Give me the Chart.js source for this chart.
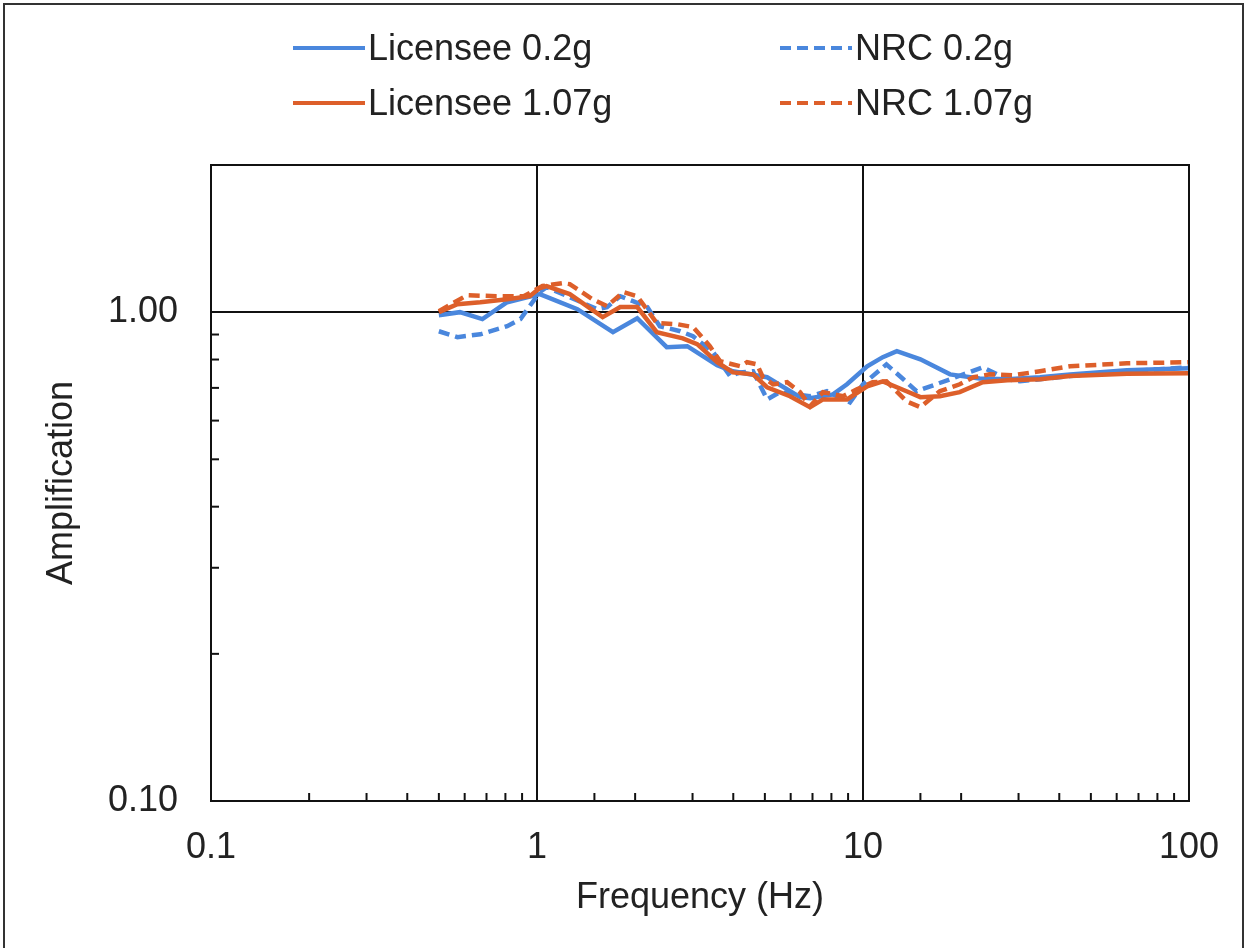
<!DOCTYPE html>
<html>
<head>
<meta charset="utf-8">
<script src="https://cdn.jsdelivr.net/npm/chart.js@4.4.1/dist/chart.umd.min.js"></script>
<style>
  body { margin: 0; background: #fff; overflow: hidden; }
  #wrap { position: relative; width: 1250px; height: 948px; }
  #frame { position: absolute; left: 3px; top: 3px; width: 1241px; height: 960px; border: 2px solid #333; box-sizing: border-box; }
  .leg { position: absolute; height: 44px; display: flex; align-items: center;
         font-family: "Liberation Sans", Arial, sans-serif; font-size: 36px; color: #222; }
  .ln { display: inline-block; width: 72px; height: 4px; margin-right: 3px; }
  .solid.blue { background: #4a87dd; }
  .solid.orange { background: #dd5f2a; }
  .dash.blue { background: repeating-linear-gradient(90deg, #4a87dd 0 11px, transparent 11px 17px); }
  .dash.orange { background: repeating-linear-gradient(90deg, #dd5f2a 0 11px, transparent 11px 17px); }
</style>
</head>
<body>
<div id="wrap">
  <canvas id="chart" width="1250" height="948"></canvas>
  <div id="frame"></div>
  <div class="leg" style="left:293px;top:26px"><span class="ln solid blue"></span>Licensee 0.2g</div>
  <div class="leg" style="left:780px;top:26px"><span class="ln dash blue"></span>NRC 0.2g</div>
  <div class="leg" style="left:293px;top:81px"><span class="ln solid orange"></span>Licensee 1.07g</div>
  <div class="leg" style="left:780px;top:81px"><span class="ln dash orange"></span>NRC 1.07g</div>
</div>
<script>
// frequencies in Hz, amplification factors
const licensee02Freq = [0.50, 0.58, 0.68, 0.81, 1.02, 1.33, 1.71, 2.03, 2.50, 2.89, 3.57, 3.99, 5.08, 6.41, 6.88, 8.09, 8.93, 10.3, 11.5, 12.7, 15.0, 18.5, 22.8, 27.7, 34.9, 43.2, 64.5, 100];
const licensee02Amp  = [0.986, 1.00, 0.968, 1.048, 1.089, 1.014, 0.910, 0.972, 0.848, 0.852, 0.779, 0.757, 0.736, 0.670, 0.667, 0.679, 0.712, 0.775, 0.809, 0.832, 0.801, 0.746, 0.732, 0.729, 0.736, 0.746, 0.761, 0.768];

const nrc02Freq = [0.50, 0.57, 0.67, 0.81, 0.89, 0.95, 1.02, 1.07, 1.24, 1.53, 1.64, 1.80, 1.97, 2.18, 2.38, 2.75, 3.01, 3.47, 3.91, 4.20, 4.60, 5.08, 5.56, 6.88, 7.75, 9.12, 10.0, 11.8, 13.3, 14.6, 18.5, 23.3, 27.7, 30.3, 34.9, 43.2, 64.5, 100];
const nrc02Amp  = [0.914, 0.889, 0.901, 0.936, 0.968, 1.029, 1.099, 1.125, 1.078, 1.014, 1.024, 1.078, 1.053, 1.024, 0.936, 0.914, 0.893, 0.828, 0.740, 0.753, 0.757, 0.663, 0.686, 0.673, 0.689, 0.654, 0.712, 0.782, 0.729, 0.689, 0.729, 0.771, 0.729, 0.722, 0.729, 0.740, 0.757, 0.771];

const licensee107Freq = [0.50, 0.57, 0.67, 0.81, 0.95, 1.02, 1.07, 1.26, 1.59, 1.80, 2.03, 2.33, 2.80, 3.10, 3.57, 3.99, 4.60, 5.08, 5.97, 6.88, 7.54, 8.93, 10.3, 11.5, 13.6, 15.0, 17.2, 19.8, 23.3, 27.7, 34.9, 43.2, 64.5, 100];
const licensee107Amp  = [1.00, 1.038, 1.048, 1.063, 1.078, 1.120, 1.131, 1.089, 0.977, 1.024, 1.024, 0.910, 0.884, 0.860, 0.790, 0.753, 0.746, 0.702, 0.673, 0.639, 0.663, 0.663, 0.705, 0.722, 0.689, 0.670, 0.673, 0.686, 0.719, 0.726, 0.729, 0.740, 0.748, 0.750];

const nrc107Freq = [0.50, 0.61, 0.75, 0.91, 1.04, 1.20, 1.26, 1.48, 1.64, 1.84, 2.03, 2.33, 2.69, 3.01, 3.39, 3.64, 4.20, 4.41, 4.73, 4.93, 5.30, 5.85, 6.41, 6.88, 7.54, 8.68, 9.58, 10.7, 11.8, 13.6, 15.0, 17.2, 19.8, 21.8, 24.5, 28.8, 34.9, 43.2, 64.5, 100];
const nrc107Amp  = [1.005, 1.083, 1.078, 1.078, 1.131, 1.147, 1.141, 1.063, 1.029, 1.099, 1.078, 0.950, 0.945, 0.932, 0.852, 0.794, 0.775, 0.790, 0.782, 0.736, 0.712, 0.719, 0.686, 0.642, 0.686, 0.673, 0.695, 0.719, 0.722, 0.657, 0.639, 0.689, 0.712, 0.736, 0.746, 0.743, 0.757, 0.775, 0.786, 0.790];

const seriesNames = ['Licensee 0.2g', 'NRC 0.2g', 'Licensee 1.07g', 'NRC 1.07g'];
const xTickLabels = ['0.1', '1', '10', '100'];
const yTickLabels = ['0.10', '1.00'];

const BLUE = '#4a87dd';
const ORANGE = '#dd5f2a';
const FONT = '"Liberation Sans", Arial, sans-serif';

function points(freq, amp) {
  return freq.map((f, i) => ({ x: f, y: amp[i] }));
}

function isDecade(v) {
  const l = Math.log10(v);
  return Math.abs(l - Math.round(l)) < 1e-6;
}

// plot box and inward minor ticks
const frame = {
  id: 'frame',
  afterDraw(chart) {
    const { ctx, chartArea: a, scales } = chart;
    ctx.save();
    ctx.strokeStyle = '#111';
    ctx.lineWidth = 2;
    scales.x.ticks.forEach(t => {
      if (isDecade(t.value)) return;
      const px = scales.x.getPixelForValue(t.value);
      ctx.beginPath();
      ctx.moveTo(px, a.bottom);
      ctx.lineTo(px, a.bottom - 8);
      ctx.stroke();
    });
    scales.y.ticks.forEach(t => {
      if (isDecade(t.value) || t.value > 1) return;
      const py = scales.y.getPixelForValue(t.value);
      ctx.beginPath();
      ctx.moveTo(a.left, py);
      ctx.lineTo(a.left + 8, py);
      ctx.stroke();
    });
    ctx.strokeRect(a.left, a.top, a.right - a.left, a.bottom - a.top);
    ctx.restore();
  }
};

const lineStyle = { borderWidth: 4.5, pointRadius: 0, tension: 0, fill: false };

new Chart(document.getElementById('chart'), {
  type: 'line',
  data: {
    datasets: [
      { label: seriesNames[0], data: points(licensee02Freq, licensee02Amp), borderColor: BLUE, order: 4, ...lineStyle },
      { label: seriesNames[1], data: points(nrc02Freq, nrc02Amp), borderColor: BLUE, borderDash: [11, 6], order: 3, ...lineStyle },
      { label: seriesNames[2], data: points(licensee107Freq, licensee107Amp), borderColor: ORANGE, order: 2, ...lineStyle },
      { label: seriesNames[3], data: points(nrc107Freq, nrc107Amp), borderColor: ORANGE, borderDash: [11, 6], order: 1, ...lineStyle }
    ]
  },
  options: {
    responsive: false,
    animation: false,
    layout: { padding: { top: 165, right: 61, left: 0, bottom: 0 } },
    plugins: { legend: { display: false }, tooltip: { enabled: false } },
    scales: {
      x: {
        type: 'logarithmic',
        min: 0.1,
        max: 100,
        afterFit(s) { s.height = 147; },
        border: { display: false },
        grid: {
          drawTicks: false,
          lineWidth: 2,
          color: c => (c.tick && (c.tick.value === 1 || c.tick.value === 10)) ? '#111' : 'rgba(0,0,0,0)'
        },
        ticks: {
          autoSkip: false,
          maxRotation: 0,
          padding: 25,
          color: '#222',
          font: { family: FONT, size: 36 },
          callback: v => isDecade(v) ? xTickLabels[Math.round(Math.log10(v)) + 1] : ''
        },
        title: {
          display: true,
          text: 'Frequency (Hz)',
          color: '#222',
          font: { family: FONT, size: 36 },
          padding: { top: 0, bottom: 28 }
        }
      },
      y: {
        type: 'logarithmic',
        min: 0.1,
        max: 2,
        afterFit(s) { s.width = 211; },
        border: { display: false },
        grid: {
          drawTicks: false,
          lineWidth: 2,
          color: c => (c.tick && c.tick.value === 1) ? '#111' : 'rgba(0,0,0,0)'
        },
        ticks: {
          autoSkip: false,
          padding: 33,
          color: '#222',
          font: { family: FONT, size: 36 },
          callback: v => isDecade(v) ? yTickLabels[Math.round(Math.log10(v)) + 1] : ''
        },
        title: {
          display: true,
          text: 'Amplification',
          color: '#222',
          font: { family: FONT, size: 36 },
          padding: { top: 40, bottom: 0 }
        }
      }
    }
  },
  plugins: [frame]
});
</script>
</body>
</html>
